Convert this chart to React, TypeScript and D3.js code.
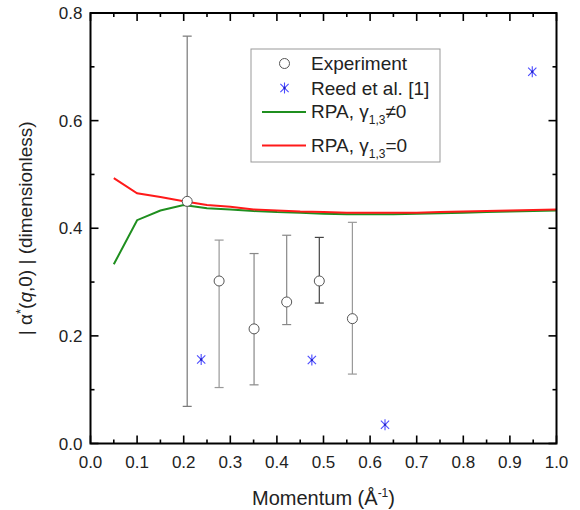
import React from "react";
import * as d3 from "d3";

const rpaQ = [0.05, 0.1, 0.15, 0.2, 0.25, 0.3, 0.35, 0.4, 0.45, 0.5, 0.55, 0.6, 0.65, 0.7, 0.75, 0.8, 0.85, 0.9, 0.95, 1.0];
const rpaNonZero = [0.333, 0.415, 0.433, 0.443, 0.437, 0.435, 0.432, 0.43, 0.429, 0.427, 0.426, 0.426, 0.426, 0.427, 0.428, 0.429, 0.43, 0.431, 0.432, 0.433];
const rpaZero = [0.493, 0.465, 0.458, 0.45, 0.443, 0.44, 0.435, 0.433, 0.431, 0.43, 0.429, 0.429, 0.429, 0.429, 0.43, 0.431, 0.432, 0.433, 0.434, 0.435];

const expQ = [0.2075, 0.276, 0.351, 0.421, 0.491, 0.562];
const expVal = [0.45, 0.302, 0.213, 0.263, 0.302, 0.232];
const expHigh = [0.757, 0.378, 0.353, 0.387, 0.383, 0.411];
const expLow = [0.069, 0.104, 0.109, 0.221, 0.261, 0.129];
const expBarColor = ["#777", "#999", "#888", "#888", "#444", "#999"];

const reedQ = [0.2375, 0.475, 0.632, 0.948];
const reedVal = [0.156, 0.155, 0.035, 0.691];

const xTicks = [0, 0.1, 0.2, 0.3, 0.4, 0.5, 0.6, 0.7, 0.8, 0.9, 1.0];
const yTicks = [0, 0.2, 0.4, 0.6, 0.8];

const W = 580;
const H = 510;
const L = 90.5, R = 556.5, T = 13, B = 443.5;

const font = "'Liberation Sans', Arial, sans-serif";

function Asterisk({ x, y, s = 5.5 }: { x: number; y: number; s?: number }) {
  const d = s * 0.75;
  return (
    <g stroke="#4a4aff" strokeWidth={1.1}>
      <line x1={x} y1={y - s} x2={x} y2={y + s} />
      <line x1={x - d} y1={y - d} x2={x + d} y2={y + d} />
      <line x1={x - d} y1={y + d} x2={x + d} y2={y - d} />
      <circle cx={x} cy={y} r={1.2} fill="#2020c0" stroke="none" />
    </g>
  );
}

export default function App() {
  const x = d3.scaleLinear().domain([0, 1]).range([L, R]);
  const y = d3.scaleLinear().domain([0, 0.8]).range([B, T]);

  const line = d3
    .line<[number, number]>()
    .x((d) => x(d[0]))
    .y((d) => y(d[1]));

  const greenPath = line(rpaQ.map((q, i) => [q, rpaNonZero[i]] as [number, number])) || "";
  const redPath = line(rpaQ.map((q, i) => [q, rpaZero[i]] as [number, number])) || "";

  const xMinor = d3.range(0, 21).map((i) => i * 0.05);
  const yMinor = d3.range(0, 9).map((i) => i * 0.1);

  const legX = 251, legY = 49, legW = 189, legH = 113;

  return (
    <div style={{ position: "absolute", left: 0, top: 0 }}>
      <svg width={W} height={H} style={{ display: "block", fontFamily: font }}>
        <rect width={W} height={H} fill="white" />
        <defs>
          <clipPath id="plot">
            <rect x={L} y={T} width={R - L} height={B - T} />
          </clipPath>
        </defs>

        {/* ticks */}
        <g stroke="#000" strokeWidth={1.6}>
          {xMinor.map((v, i) => {
            const len = i % 2 === 0 ? 8 : 4;
            return (
              <g key={"xt" + i}>
                <line x1={x(v)} x2={x(v)} y1={B} y2={B - len} />
                <line x1={x(v)} x2={x(v)} y1={T} y2={T + len} />
              </g>
            );
          })}
          {yMinor.map((v, i) => {
            const len = i % 2 === 0 ? 8 : 4;
            return (
              <g key={"yt" + i}>
                <line x1={L} x2={L + len} y1={y(v)} y2={y(v)} />
                <line x1={R} x2={R - len} y1={y(v)} y2={y(v)} />
              </g>
            );
          })}
        </g>

        {/* curves */}
        <g clipPath="url(#plot)" fill="none" strokeWidth={2}>
          <path d={greenPath} stroke="#1f8f1f" />
          <path d={redPath} stroke="#ff1a1a" />
        </g>

        {/* error bars */}
        {expQ.map((q, i) => (
          <g key={"eb" + i} stroke={expBarColor[i]} strokeWidth={1.2}>
            <line x1={x(q)} x2={x(q)} y1={y(expHigh[i])} y2={y(expLow[i])} />
            <line x1={x(q) - 4.5} x2={x(q) + 4.5} y1={y(expHigh[i])} y2={y(expHigh[i])} />
            <line x1={x(q) - 4.5} x2={x(q) + 4.5} y1={y(expLow[i])} y2={y(expLow[i])} />
          </g>
        ))}
        {expQ.map((q, i) => (
          <circle key={"ec" + i} cx={x(q)} cy={y(expVal[i])} r={5} fill="white" stroke="#555" strokeWidth={1} />
        ))}

        {reedQ.map((q, i) => (
          <Asterisk key={"rd" + i} x={x(q)} y={y(reedVal[i])} />
        ))}

        {/* frame */}
        <rect x={L} y={T} width={R - L} height={B - T} fill="none" stroke="#000" strokeWidth={2} />

        {/* tick labels */}
        <g fontSize={17} fill="#222">
          {xTicks.map((v) => (
            <text key={"xl" + v} x={x(v)} y={B + 24} textAnchor="middle">
              {v.toFixed(1)}
            </text>
          ))}
          {yTicks.map((v) => (
            <text key={"yl" + v} x={L - 8} y={y(v) + 6} textAnchor="end">
              {v.toFixed(1)}
            </text>
          ))}
        </g>

        {/* axis titles */}
        <text x={(L + R) / 2} y={505} textAnchor="middle" fontSize={20} fill="#222">
          Momentum (Å<tspan dy={-8} fontSize={12}>-1</tspan>
          <tspan dy={8}>)</tspan>
        </text>
        <text
          transform={`translate(32, ${(T + B) / 2}) rotate(-90)`}
          textAnchor="middle"
          fontSize={19}
          fill="#222"
        >
          | α<tspan dy={-7} fontSize={13}>*</tspan>
          <tspan dy={7}>(</tspan>
          <tspan fontStyle="italic">q</tspan>,0) | (dimensionless)
        </text>

        {/* legend */}
        <rect x={legX} y={legY} width={legW} height={legH} fill="white" stroke="#999" strokeWidth={1} />
        <circle cx={284.5} cy={63.5} r={5} fill="white" stroke="#555" strokeWidth={1} />
        <Asterisk x={284.5} y={88} />
        <line x1={262} x2={306} y1={112} y2={112} stroke="#1f8f1f" strokeWidth={2} />
        <line x1={262} x2={306} y1={145.5} y2={145.5} stroke="#ff1a1a" strokeWidth={2} />
        <g fontSize={19} fill="#222">
          <text x={311} y={70}>Experiment</text>
          <text x={311} y={95}>Reed et al. [1]</text>
          <text x={311} y={118}>
            RPA, γ<tspan dy={6} fontSize={12}>1,3</tspan>
            <tspan dy={-6}>≠0</tspan>
          </text>
          <text x={311} y={152}>
            RPA, γ<tspan dy={6} fontSize={12}>1,3</tspan>
            <tspan dy={-6}>=0</tspan>
          </text>
        </g>
      </svg>
    </div>
  );
}
